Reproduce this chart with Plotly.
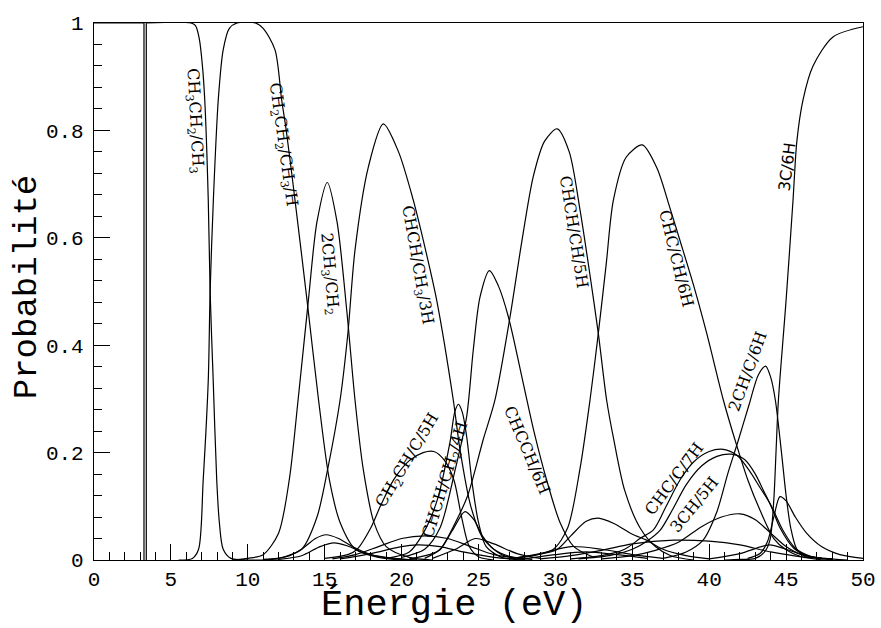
import plotly.graph_objects as go

# ---------------- data (energy in eV, probability) ----------------
e_parent = [0, 3.25, 3.25]
p_parent = [1, 1, 0]

e_ch3ch2_ch3 = [3.4, 3.4, 6.3, 6.6, 6.85, 7.05, 7.2, 7.43, 7.55, 7.75, 7.98, 8.15, 8.4, 8.9, 10, 12]
p_ch3ch2_ch3 = [0, 1, 1, 0.995, 0.97, 0.92, 0.857, 0.67, 0.5, 0.335, 0.149, 0.07, 0.02, 0.003, 0, 0]

e_ch2ch2_ch3_h = [5.5, 6.4, 6.8, 7.1, 7.43, 7.55, 7.76, 8.08, 8.4, 8.8, 9.3, 10.5, 11.0, 11.77, 12.2, 12.5, 13.07, 13.85, 14.6, 15.3, 16.0, 17.0, 18.5, 20]
p_ch2ch2_ch3_h = [0, 0.003, 0.02, 0.149, 0.335, 0.5, 0.67, 0.857, 0.95, 0.99, 1, 1, 0.99, 0.95, 0.857, 0.8, 0.67, 0.484, 0.298, 0.15, 0.07, 0.02, 0.005, 0]

e_2ch3_ch2 = [9, 10, 11, 12, 12.7, 13.27, 13.94, 14.5, 15.17, 15.8, 16.43, 16.97, 17.5, 18.2, 19, 20.5, 22]
p_2ch3_ch2 = [0, 0.003, 0.01, 0.05, 0.15, 0.298, 0.484, 0.63, 0.703, 0.63, 0.466, 0.298, 0.17, 0.07, 0.025, 0.005, 0]

e_chch_ch3_3h = [11, 12, 13.5, 14.5, 15.2, 16.0, 16.5, 16.97, 17.84, 18.81, 19.8, 20.76, 21.56, 22.28, 23.36, 23.8, 24.5, 25.3, 26.5, 28]
p_chch_ch3_3h = [0, 0.003, 0.02, 0.08, 0.17, 0.298, 0.42, 0.577, 0.732, 0.812, 0.76, 0.67, 0.577, 0.484, 0.298, 0.205, 0.1, 0.04, 0.01, 0.002]

e_ch2ch_c_5h = [15, 16.5, 17.08, 18, 18.6, 19.5, 20.5, 21.4, 22.1, 22.8, 23.4, 23.9, 24.4, 25, 26]
p_ch2ch_c_5h = [0.003, 0.01, 0.019, 0.06, 0.099, 0.15, 0.185, 0.2, 0.202, 0.185, 0.149, 0.08, 0.025, 0.006, 0]

e_chch_ch2_4h = [19, 20.5, 21.41, 22.3, 23.15, 23.45, 23.69, 23.95, 24.23, 24.6, 25, 25.5, 26.5, 28]
p_chch_ch2_4h = [0.003, 0.015, 0.05, 0.11, 0.22, 0.275, 0.29, 0.275, 0.23, 0.14, 0.07, 0.025, 0.005, 0]

e_chcch_6h = [20, 21.5, 22.5, 23.5, 24.23, 24.66, 25.1, 25.71, 26.3, 26.94, 27.91, 28.6, 29.43, 30.3, 31.2, 32.5]
p_chcch_6h = [0.005, 0.02, 0.06, 0.17, 0.267, 0.391, 0.49, 0.539, 0.51, 0.453, 0.329, 0.24, 0.149, 0.07, 0.025, 0.005]

e_chch_ch_5h = [21.5, 22.5, 23.5, 24.3, 25.3, 26.07, 27.05, 27.8, 28.56, 29.3, 30.12, 30.9, 31.6, 32.2, 32.79, 33.33, 33.8, 34.5, 35.5, 36.5, 37.5, 39]
p_chch_ch_5h = [0.003, 0.02, 0.07, 0.12, 0.2235, 0.298, 0.453, 0.59, 0.714, 0.78, 0.803, 0.76, 0.652, 0.54, 0.422, 0.298, 0.2235, 0.13, 0.06, 0.025, 0.008, 0]

e_chc_ch_6h = [27, 28.5, 29.87, 30.8, 31.6, 32.25, 32.79, 33.3, 33.77, 34.6, 35.65, 36.6, 37.4, 38.1, 39.0, 39.84, 40.92, 41.68, 42.5, 43.3, 44.2, 45, 46, 47.5]
p_chc_ch_6h = [0.003, 0.008, 0.02, 0.06, 0.17, 0.298, 0.422, 0.55, 0.67, 0.75, 0.773, 0.73, 0.66, 0.595, 0.51, 0.422, 0.298, 0.2235, 0.15, 0.093, 0.04, 0.019, 0.006, 0]

e_2ch_c_6h = [37, 38.5, 39.6, 40.5, 41.2, 41.9, 42.6, 43.2, 43.67, 44.0, 44.3, 44.7, 45.0, 45.3, 45.7, 46.3]
p_2ch_c_6h = [0.003, 0.015, 0.037, 0.09, 0.16, 0.2235, 0.29, 0.345, 0.361, 0.34, 0.298, 0.2, 0.12, 0.06, 0.02, 0.005]

e_3c_6h = [41, 42, 43, 43.6, 43.95, 44.2, 44.35, 44.5, 45.0, 45.45, 45.7, 46.1, 46.75, 48.05, 50]
p_3c_6h = [0, 0.001, 0.003, 0.015, 0.037, 0.112, 0.205, 0.298, 0.484, 0.67, 0.78, 0.857, 0.92, 0.974, 0.993]

e_chc_c_7h = [31, 33, 34.5, 35.5, 36.37, 37.2, 38.1, 39, 40, 40.92, 41.8, 42.6, 43.3, 43.95, 44.6, 45.5, 46.5, 48]
p_chc_c_7h = [0.002, 0.008, 0.02, 0.04, 0.056, 0.1, 0.149, 0.183, 0.202, 0.206, 0.195, 0.167, 0.135, 0.105, 0.06, 0.022, 0.007, 0.001]

e_3ch_5h = [31.5, 33.5, 35, 36, 36.8, 37.6, 38.5, 39.5, 40.5, 41.46, 42.3, 43, 43.6, 44.17, 44.8, 45.6, 46.6, 48]
p_3ch_5h = [0.002, 0.008, 0.02, 0.036, 0.055, 0.093, 0.14, 0.175, 0.193, 0.197, 0.187, 0.16, 0.125, 0.093, 0.055, 0.022, 0.007, 0.001]

e_minor_42 = [33, 35, 36.5, 38, 39.5, 40.8, 42.0, 43, 44, 45, 46, 47.5, 49]
p_minor_42 = [0.002, 0.008, 0.018, 0.033, 0.062, 0.08, 0.086, 0.075, 0.05, 0.025, 0.01, 0.003, 0]

e_minor_38 = [29, 31, 33, 35, 37.7, 40, 42, 44, 46, 48]
p_minor_38 = [0.002, 0.008, 0.018, 0.03, 0.037, 0.035, 0.028, 0.015, 0.006, 0.002]

e_minor_45 = [42.5, 43.3, 43.8, 44.2, 44.6, 45.0, 45.6, 46.33, 47.3, 48.5, 50]
p_minor_45 = [0.003, 0.012, 0.035, 0.08, 0.118, 0.11, 0.08, 0.05, 0.025, 0.01, 0.003]

e_minor_44 = [40, 42, 43.9, 45, 46.5, 48]
p_minor_44 = [0.002, 0.012, 0.028, 0.02, 0.006, 0.001]

e_minor_33 = [27, 28.5, 30.08, 31, 32, 32.79, 33.8, 35, 35.93, 37, 38.5, 40]
p_minor_33 = [0.002, 0.008, 0.019, 0.045, 0.072, 0.078, 0.068, 0.048, 0.037, 0.02, 0.008, 0.002]

e_minor_15a = [11, 12.5, 13.5, 14.4, 15.1, 15.9, 16.8, 18, 19.5, 21]
p_minor_15a = [0.001, 0.006, 0.02, 0.04, 0.047, 0.04, 0.025, 0.01, 0.003, 0]

e_minor_15b = [12, 13.5, 14.7, 15.6, 16.5, 17.5, 19, 21]
p_minor_15b = [0.001, 0.008, 0.025, 0.032, 0.026, 0.014, 0.004, 0]

e_minor_21a = [15.5, 17, 18.5, 20, 21.5, 23, 24.5, 26, 28]
p_minor_21a = [0.002, 0.01, 0.025, 0.04, 0.045, 0.04, 0.025, 0.01, 0.002]

e_minor_21b = [16, 18, 20, 21, 22.5, 24, 26, 28]
p_minor_21b = [0.002, 0.012, 0.025, 0.028, 0.025, 0.015, 0.005, 0.001]

e_minor_24 = [20.5, 21.8, 22.5, 23.3, 24.12, 24.7, 25.3, 26, 27, 28.5]
p_minor_24 = [0.002, 0.01, 0.019, 0.055, 0.09, 0.075, 0.043, 0.02, 0.007, 0.001]

e_minor_25 = [22, 23.5, 24.8, 26, 27.5, 29]
p_minor_25 = [0.003, 0.02, 0.04, 0.03, 0.012, 0.003]

e_minor_31a = [27, 29, 31, 33, 35, 37]
p_minor_31a = [0.002, 0.012, 0.025, 0.02, 0.01, 0.003]

e_minor_31b = [28, 30, 32, 34, 36]
p_minor_31b = [0.002, 0.01, 0.015, 0.01, 0.003]

label_texts = [
    "CH<sub>3</sub>CH<sub>2</sub>/CH<sub>3</sub>",
    "CH<sub>2</sub>CH<sub>2</sub>/CH<sub>3</sub>/H",
    "2CH<sub>3</sub>/CH<sub>2</sub>",
    "CHCH/CH<sub>3</sub>/3H",
    "CHCH/CH/5H",
    "CHC/CH/6H",
    "3C/6H",
    "2CH/C/6H",
    "CH<sub>2</sub>CH/C/5H",
    "CHCH/CH<sub>2</sub>/4H",
    "CHCCH/6H",
    "CHC/C/7H",
    "3CH/5H",
]
label_e = [6.57, 12.26, 15.28, 21.03, 31.22, 37.88, 45.09, 42.54, 20.38, 22.87, 28.13, 37.72, 39.02]
label_p = [0.819, 0.773, 0.533, 0.549, 0.61, 0.562, 0.732, 0.352, 0.186, 0.15, 0.205, 0.152, 0.104]
label_angle = [87, 82, 85, 80, 81, 76, -83, -70, -59, -73, 67, -53, -51]
label_font = ["DejaVu Serif"] * 6 + ["DejaVu Sans"] + ["DejaVu Serif"] * 6

x_ticks = [0, 5, 10, 15, 20, 25, 30, 35, 40, 45, 50]
y_ticks = [0, 0.2, 0.4, 0.6, 0.8, 1]
y_tick_text = ["0", "0.2", "0.4", "0.6", "0.8", "1"]

# ---------------- figure ----------------
LINE = dict(color="black", width=1.2)
SPL = dict(color="black", width=1.2, shape="spline", smoothing=0.8)
fig = go.Figure()

# steep edges drawn as straight segments
fig.add_trace(go.Scatter(x=e_parent, y=p_parent, mode="lines", line=LINE))
fig.add_trace(go.Scatter(x=e_ch3ch2_ch3[:2], y=p_ch3ch2_ch3[:2], mode="lines", line=LINE))
fig.add_trace(go.Scatter(x=e_ch3ch2_ch3[1:], y=p_ch3ch2_ch3[1:], mode="lines", line=SPL))

curves = [
    (e_ch2ch2_ch3_h, p_ch2ch2_ch3_h), (e_2ch3_ch2, p_2ch3_ch2), (e_chch_ch3_3h, p_chch_ch3_3h),
    (e_ch2ch_c_5h, p_ch2ch_c_5h), (e_chch_ch2_4h, p_chch_ch2_4h), (e_chcch_6h, p_chcch_6h),
    (e_chch_ch_5h, p_chch_ch_5h), (e_chc_ch_6h, p_chc_ch_6h), (e_2ch_c_6h, p_2ch_c_6h),
    (e_3c_6h, p_3c_6h), (e_chc_c_7h, p_chc_c_7h), (e_3ch_5h, p_3ch_5h),
    (e_minor_42, p_minor_42), (e_minor_38, p_minor_38), (e_minor_45, p_minor_45),
    (e_minor_44, p_minor_44), (e_minor_33, p_minor_33), (e_minor_15a, p_minor_15a),
    (e_minor_15b, p_minor_15b), (e_minor_21a, p_minor_21a), (e_minor_21b, p_minor_21b),
    (e_minor_24, p_minor_24), (e_minor_25, p_minor_25), (e_minor_31a, p_minor_31a),
    (e_minor_31b, p_minor_31b),
]
for ex, py in curves:
    fig.add_trace(go.Scatter(x=ex, y=py, mode="lines", line=SPL))

for t, xe, yp, ang, fam in zip(label_texts, label_e, label_p, label_angle, label_font):
    fig.add_annotation(x=xe, y=yp, text=t, textangle=ang, showarrow=False,
                       xanchor="center", yanchor="middle",
                       font=dict(family=fam, size=16, color="black"))

# axis titles as annotations for exact placement
fig.add_annotation(xref="paper", yref="paper", x=0.468, y=0, yshift=-45, text="Énergie (eV)",
                   showarrow=False, xanchor="center", yanchor="middle",
                   font=dict(family="Liberation Mono", size=37, color="black"))
fig.add_annotation(xref="paper", yref="paper", x=0, xshift=-67, y=0.508, text="Probabilité",
                   textangle=-90, showarrow=False, xanchor="center", yanchor="middle",
                   font=dict(family="Liberation Mono", size=34, color="black"))

axis_common = dict(showgrid=False, zeroline=False, showline=True, linecolor="black", linewidth=1.2,
                   mirror=True, ticks="inside", ticklen=16, tickwidth=1, tickcolor="black",
                   tickfont=dict(family="Liberation Mono", size=21, color="black"))
fig.update_xaxes(range=[0, 50], tickvals=x_ticks, ticklabelstandoff=0, ticklabeloverflow="allow",
                 minor=dict(ticks="inside", ticklen=8, dtick=1, tickcolor="black", tickwidth=1),
                 **axis_common)
fig.update_yaxes(range=[0, 1], tickvals=y_ticks, ticktext=y_tick_text, ticklabelstandoff=5,
                 minor=dict(ticks="inside", ticklen=8, dtick=0.04, tickcolor="black", tickwidth=1),
                 **axis_common)

fig.update_layout(width=881, height=628, margin=dict(l=94, r=18, t=23, b=68, autoexpand=False),
                  plot_bgcolor="white", paper_bgcolor="white", showlegend=False)

# remove the default page margin so the 881x628 figure fills the window exactly
fig.write_html("out.html", config={"displayModeBar": False},
               post_script="document.body.style.margin='0';document.body.style.overflow='hidden';")
